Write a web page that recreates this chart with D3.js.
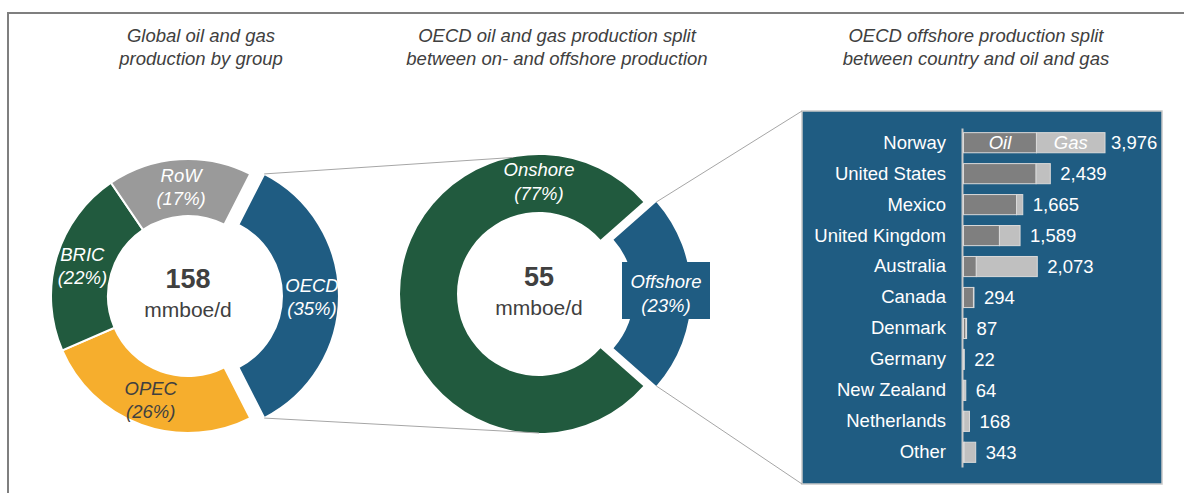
<!DOCTYPE html>
<html>
<head>
<meta charset="utf-8">
<script src="https://cdn.jsdelivr.net/npm/d3@7"></script>
<style>
  html, body { margin: 0; padding: 0; background: #fff; }
  svg { display: block; font-family: "Liberation Sans", Arial, sans-serif; }
</style>
</head>
<body>
<svg id="chart" width="1184" height="493"></svg>
<script>
// Global production by group (share of 158 mmboe/d)
const groupNames = ["OECD", "OPEC", "BRIC", "RoW"];
const groupShares = [35, 26, 22, 17];
const groupTotal = 158;

// OECD split between onshore and offshore (share of 55 mmboe/d)
const splitNames = ["Offshore", "Onshore"];
const splitShares = [23, 77];
const splitTotal = 55;

// OECD offshore production by country, kboe/d
const countries = ["Norway", "United States", "Mexico", "United Kingdom", "Australia",
  "Canada", "Denmark", "Germany", "New Zealand", "Netherlands", "Other"];
const oilValues = [2050, 2040, 1490, 1010, 360, 280, 70, 0, 10, 8, 20];
const gasValues = [1926, 399, 175, 579, 1713, 14, 17, 22, 54, 160, 323];

const titles = [
  ["Global oil and gas", "production by group"],
  ["OECD oil and gas production split", "between on- and offshore production"],
  ["OECD offshore production split", "between country and oil and gas"]
];

const svg = d3.select("#chart");
const TXT = "#404040";
const FS = 18.5;

// outer frame (top and left edges)
svg.append("path")
  .attr("d", "M8,493 V13 H1184")
  .attr("fill", "none").attr("stroke", "#7f7f7f").attr("stroke-width", 2);

// panel titles
const titleX = [201, 557, 976];
titles.forEach((lines, i) => {
  const t = svg.append("text").attr("text-anchor", "middle")
    .attr("font-style", "italic").attr("font-size", FS).attr("fill", TXT);
  lines.forEach((l, j) => t.append("tspan").attr("x", titleX[i]).attr("y", 42 + j * 23).text(l));
});

const groupColor = d3.scaleOrdinal().domain(groupNames)
  .range(["#1f5c82", "#f6ae2d", "#215a3e", "#9a9a9a"]);
const groupLabelColor = { OECD: "#fff", OPEC: TXT, BRIC: "#fff", RoW: "#fff" };

// ---------- left donut ----------
const L = { cx: 188, cy: 296, r0: 80, r1: 137, pop: 14 };
const pieL = d3.pie().sort(null).value(d => d.v)
  .startAngle(0.15 * Math.PI).endAngle(2.15 * Math.PI);
const arcsL = pieL(groupNames.map((n, i) => ({ n, v: groupShares[i] })));
const arcL = d3.arc().innerRadius(L.r0).outerRadius(L.r1);
const labelArcL = d3.arc().innerRadius(110).outerRadius(110);

const gL = svg.append("g").attr("transform", `translate(${L.cx},${L.cy})`);
function popOffset(a, pop) {
  const m = (a.startAngle + a.endAngle) / 2;
  return [pop * Math.sin(m), -pop * Math.cos(m)];
}
arcsL.forEach(a => {
  const off = a.data.n === "OECD" ? popOffset(a, L.pop) : [0, 0];
  const g = gL.append("g").attr("transform", `translate(${off[0]},${off[1]})`);
  g.append("path").attr("d", arcL(a)).attr("fill", groupColor(a.data.n))
    .attr("stroke", "#fff").attr("stroke-width", 2);
  const [lx, ly] = labelArcL.centroid(a);
  const t = g.append("text").attr("text-anchor", "middle").attr("font-style", "italic")
    .attr("font-size", FS).attr("fill", groupLabelColor[a.data.n]);
  t.append("tspan").attr("x", lx).attr("y", ly - 4).text(a.data.n);
  t.append("tspan").attr("x", lx).attr("y", ly + 19).text(`(${a.data.v}%)`);
});
gL.append("text").attr("text-anchor", "middle").attr("y", -8)
  .attr("font-size", 27).attr("font-weight", "bold").attr("fill", TXT).text(groupTotal);
gL.append("text").attr("text-anchor", "middle").attr("y", 21)
  .attr("font-size", 21).attr("fill", TXT).text("mmboe/d");

// ---------- middle donut ----------
const M = { cx: 539, cy: 294, r0: 82, r1: 139, pop: 13 };
const pieM = d3.pie().sort(null).value(d => d.v)
  .startAngle(0.27 * Math.PI).endAngle(2.27 * Math.PI);
const arcsM = pieM(splitNames.map((n, i) => ({ n, v: splitShares[i] })));
const arcM = d3.arc().innerRadius(M.r0).outerRadius(M.r1);
const gM = svg.append("g").attr("transform", `translate(${M.cx},${M.cy})`);
const splitColor = { Offshore: "#1f5c82", Onshore: "#215a3e" };

arcsM.forEach(a => {
  const off = a.data.n === "Offshore" ? popOffset(a, M.pop) : [0, 0];
  const g = gM.append("g").attr("transform", `translate(${off[0]},${off[1]})`);
  g.append("path").attr("d", arcM(a)).attr("fill", splitColor[a.data.n]);
  let lx, ly;
  if (a.data.n === "Offshore") {
    [lx, ly] = d3.arc().innerRadius(114).outerRadius(114).centroid(a);
    g.append("rect").attr("x", lx - 44).attr("y", ly - 32).attr("width", 88).attr("height", 57)
      .attr("fill", splitColor.Offshore);
  } else {
    lx = 0; ly = -112;
  }
  const t = g.append("text").attr("text-anchor", "middle").attr("font-style", "italic")
    .attr("font-size", FS).attr("fill", "#fff");
  t.append("tspan").attr("x", lx).attr("y", ly - 6).text(a.data.n);
  t.append("tspan").attr("x", lx).attr("y", ly + 18).text(`(${a.data.v}%)`);
});
gM.append("text").attr("text-anchor", "middle").attr("y", -8)
  .attr("font-size", 27).attr("font-weight", "bold").attr("fill", TXT).text(splitTotal);
gM.append("text").attr("text-anchor", "middle").attr("y", 21)
  .attr("font-size", 21).attr("fill", TXT).text("mmboe/d");

// ---------- offshore by country panel ----------
const P = { x0: 802, y0: 111, x1: 1162, y1: 484 };
svg.append("rect").attr("x", P.x0).attr("y", P.y0)
  .attr("width", P.x1 - P.x0).attr("height", P.y1 - P.y0)
  .attr("fill", "#1f5c82").attr("stroke", "#c8c8c8").attr("stroke-width", 1.5);

const totals = countries.map((c, i) => oilValues[i] + gasValues[i]);
const x = d3.scaleLinear().domain([0, d3.max(totals)]).range([963.5, 1105]);
const y = d3.scaleBand().domain(countries).range([128, 467])
  .paddingInner(0.35).paddingOuter(0.15);

// category axis sits just left of the bar baseline
const axis = svg.append("g").attr("transform", `translate(${x(0) - 1.5},0)`)
  .call(d3.axisLeft(y).tickSize(0).tickPadding(16));
axis.select(".domain").attr("stroke", "#c8c8c8").attr("stroke-width", 2);
axis.selectAll("text").attr("font-size", FS).attr("fill", "#fff")
  .attr("font-family", "'Liberation Sans', Arial, sans-serif");

const bars = svg.append("g");
countries.forEach((c, i) => {
  const segs = [
    { k: "Oil", a: 0, b: oilValues[i], fill: "#7f7f7f" },
    { k: "Gas", a: oilValues[i], b: totals[i], fill: "#c0c0c0" }
  ];
  segs.forEach(s => {
    if (s.b <= s.a) return;
    bars.append("rect").attr("x", x(s.a)).attr("y", y(c))
      .attr("width", x(s.b) - x(s.a)).attr("height", y.bandwidth())
      .attr("fill", s.fill).attr("stroke", "#dadada").attr("stroke-width", 1);
    if (i === 0) {
      bars.append("text").attr("x", (x(s.a) + x(s.b)) / 2)
        .attr("y", y(c) + y.bandwidth() / 2).attr("dy", "0.35em")
        .attr("text-anchor", "middle").attr("font-style", "italic")
        .attr("font-size", FS).attr("fill", "#fff").text(s.k);
    }
  });
  bars.append("text").attr("x", x(totals[i]) + (i === 0 ? 6 : 10))
    .attr("y", y(c) + y.bandwidth() / 2).attr("dy", "0.35em")
    .attr("font-size", FS).attr("fill", "#fff").text(d3.format(",")(totals[i]));
});

// ---------- connector lines ----------
const conn = svg.append("g").attr("stroke", "#a6a6a6").attr("stroke-width", 1).attr("fill", "none");
function outerPoint(c, a, r, pop) {
  return [c.cx + r * Math.sin(a) + pop, c.cy - r * Math.cos(a)];
}
const oecd = arcsL[0];
const offs = arcsM[0];
const lTop = outerPoint(L, oecd.startAngle, L.r1, L.pop);
const lBot = outerPoint(L, oecd.endAngle, L.r1, L.pop);
const mTop = outerPoint(M, -0.06 * Math.PI, M.r1, 0);
const mBot = outerPoint(M, Math.PI, M.r1, 0);
conn.append("line").attr("x1", lTop[0]).attr("y1", lTop[1]).attr("x2", mTop[0]).attr("y2", mTop[1]);
conn.append("line").attr("x1", lBot[0]).attr("y1", lBot[1]).attr("x2", mBot[0]).attr("y2", mBot[1]);
const oTop = outerPoint(M, offs.startAngle, M.r1, M.pop);
const oBot = outerPoint(M, offs.endAngle, M.r1, M.pop);
conn.append("line").attr("x1", oTop[0]).attr("y1", oTop[1]).attr("x2", P.x0).attr("y2", P.y0);
conn.append("line").attr("x1", oBot[0]).attr("y1", oBot[1]).attr("x2", P.x0).attr("y2", P.y1);
</script>
</body>
</html>
